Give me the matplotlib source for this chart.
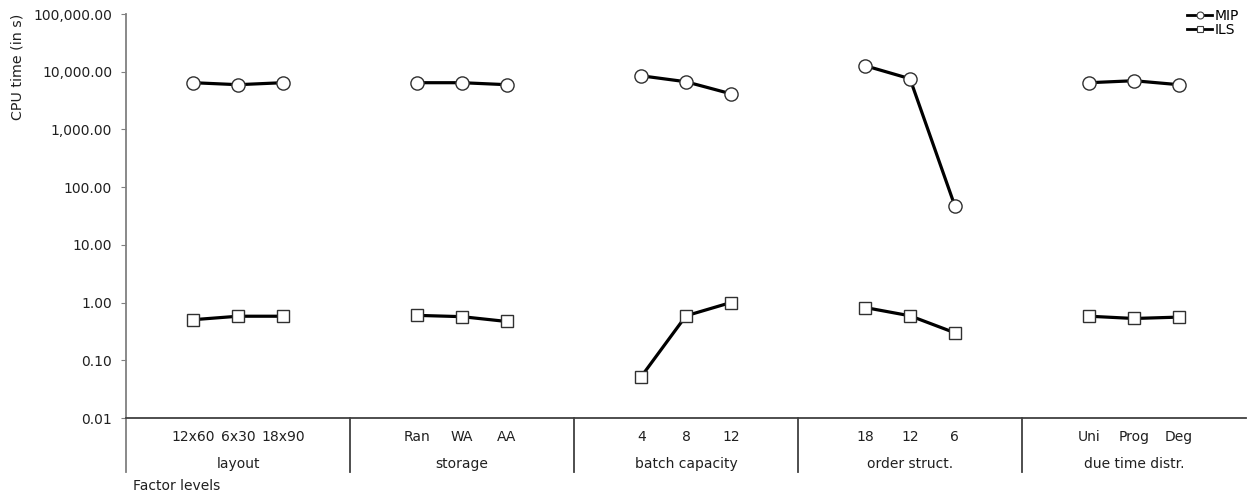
import matplotlib
matplotlib.use("Agg")
import matplotlib.pyplot as plt
from matplotlib.lines import Line2D
import numpy as np

factors = ["layout", "storage", "batch capacity", "order struct.", "due time distr."]
levels = [["12x60", "6x30", "18x90"],
          ["Ran", "WA", "AA"],
          ["4", "8", "12"],
          ["18", "12", "6"],
          ["Uni", "Prog", "Deg"]]
mip = [[6450, 5960, 6450],
       [6450, 6450, 5960],
       [8500, 6700, 4150],
       [12700, 7560, 47.6],
       [6450, 6980, 5960]]
ils = [[0.505, 0.58, 0.58],
       [0.60, 0.57, 0.47],
       [0.052, 0.59, 1.0],
       [0.82, 0.59, 0.30],
       [0.58, 0.53, 0.56]]
yticks = [0.01, 0.1, 1, 10, 100, 1000, 10000, 100000]
ytick_labels = ["0.01", "0.10", "1.00", "10.00", "100.00", "1,000.00", "10,000.00", "100,000.00"]

W, H = 1252, 498
fig = plt.figure(figsize=(W / 100, H / 100), dpi=100)
L, R, T, B = 126, 1246, 14, 418
ax = fig.add_axes([L / W, (H - B) / H, (R - L) / W, (B - T) / H])
ax.set_yscale("log")
ax.set_ylim(0.01, 100000)
ax.set_xlim(-0.5, 5 * len(factors) - 0.5)

spine_c = "#808080"
for s in ["top", "right"]:
    ax.spines[s].set_visible(False)
ax.spines["left"].set_color(spine_c)
ax.spines["bottom"].set_color("#404040")
ax.spines["left"].set_linewidth(1.3)
ax.spines["bottom"].set_linewidth(1.3)
ax.set_yticks(yticks)
ax.set_yticklabels(ytick_labels)
ax.yaxis.set_minor_locator(matplotlib.ticker.NullLocator())
ax.tick_params(axis="y", direction="out", length=3.5, color=spine_c, labelsize=10,
               labelcolor="#202020", pad=6.5)
ax.set_xticks([])

mk_face = "white"
for g in range(len(factors)):
    xs = [5 * g + 1 + i for i in range(3)]
    ax.plot(xs, mip[g], color="black", lw=2.3, marker="o", ms=9.5,
            mfc=mk_face, mec="#303030", mew=1.0, zorder=3)
    ax.plot(xs, ils[g], color="black", lw=2.3, marker="s", ms=9,
            mfc=mk_face, mec="#303030", mew=1.0, zorder=3)
    for i, lab in enumerate(levels[g]):
        ax.text(xs[i], -(437 - B) / (B - T), lab, transform=ax.get_xaxis_transform(),
                ha="center", va="center", fontsize=10, color="#202020")
    ax.text(5 * g + 2, -(464 - B) / (B - T), factors[g], transform=ax.get_xaxis_transform(),
            ha="center", va="center", fontsize=10, color="#202020")

# separators below axis
bottom_ext = -(472 - B) / (B - T)
for g in range(len(factors)):
    xsep = 5 * g - 0.5
    ax.plot([xsep, xsep], [0, bottom_ext], transform=ax.get_xaxis_transform(),
            color=spine_c if g == 0 else "#404040", lw=1.3, clip_on=False)

fig.text(133 / W, 1 - 486 / H, "Factor levels", ha="left", va="center", fontsize=10, color="#202020")
fig.text(18 / W, 1 - 67 / H, "CPU time (in s)", rotation=90, ha="center", va="center",
         fontsize=10.3, color="#202020")

handles = [Line2D([], [], color="black", lw=2, marker="o", ms=5, mfc="white", mec="#404040", mew=0.8),
           Line2D([], [], color="black", lw=2, marker="s", ms=5, mfc="white", mec="#404040", mew=0.8)]
leg = fig.legend(handles, ["MIP", "ILS"], loc="upper right", bbox_to_anchor=(1247 / W, 1 - 1 / H),
                 frameon=False, fontsize=10, handlelength=1.8, handletextpad=0.15,
                 labelspacing=0.0, borderpad=0.1)

fig.savefig("out.png", dpi=100)
